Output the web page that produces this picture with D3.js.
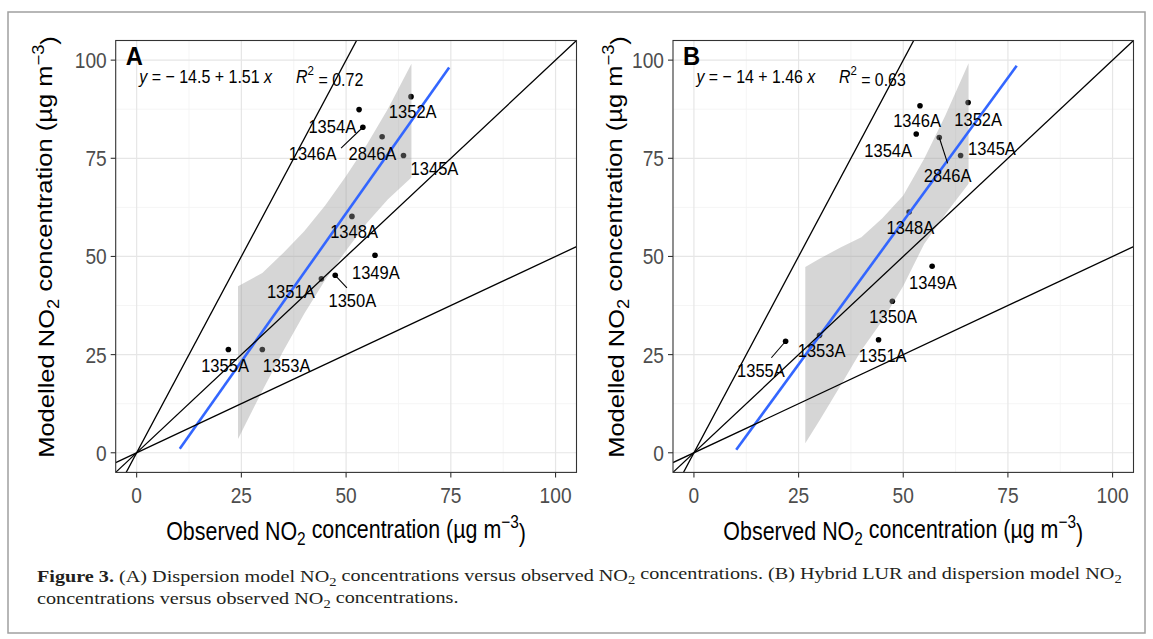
<!DOCTYPE html>
<meta charset="utf-8">
<script src="https://d3js.org/d3.v7.min.js"></script>
<body style="margin:0;background:#fff">
<div id="chart"></div>
<script>
// monitoring sites (same order in every array below)
const sites = ["1345A","1346A","1348A","1349A","1350A","1351A","1352A","1353A","1354A","1355A","2846A"];
const observed  = [63.7, 54.0, 51.4, 56.9, 47.4, 44.1, 65.5, 30.0, 53.1, 21.9, 58.6];
const modelledA = [75.7, 82.9, 60.2, 50.3, 45.2, 44.3, 90.7, 26.3, 87.4, 26.3, 80.5];
const modelledB = [75.7, 88.4, 61.3, 47.5, 38.6, 28.8, 89.2, 29.9, 81.2, 28.4, 80.3];

// repelled label anchors (data units)
const labelXA = [71.1, 42.0, 51.9, 57.1, 51.5, 36.8, 65.9, 35.8, 46.7, 21.1, 56.3];
const labelYA = [72.5, 76.3, 56.4, 46.0, 38.8, 41.2, 87.1, 22.3, 83.3, 22.3, 76.3];
const labelXB = [71.2, 53.3, 51.7, 57.1, 47.6, 45.1, 67.9, 30.5, 46.4, 16.0, 60.6];
const labelYB = [77.6, 84.6, 57.4, 43.5, 34.7, 24.8, 85.0, 26.1, 77.1, 21.0, 70.6];
// leader segment ends (null = no segment)
const segXA = [null, 48.8, null, null, 50.2, null, null, null, null, null, null];
const segYA = [null, 77.6, null, null, 42.0, null, null, null, null, null, null];
const segXB = [null, null, null, null, null, null, null, null, null, 18.5, 60.6];
const segYB = [null, null, null, null, null, null, null, null, null, 24.2, 73.7];

// linear fits: [intercept, slope], drawn x range, R2
const fitA = [-14.5, 1.51], fitRangeA = [10.3, 74.6], r2A = "0.72";
const fitB = [-14, 1.46],   fitRangeB = [10.1, 77.1], r2B = "0.63";

// confidence ribbons
const ribbonXA  = [24.2, 30, 35, 40, 45, 50, 55, 60, 65.6];
const ribbonLoA = [3.5, 15.8, 25.9, 35.4, 44.0, 51.5, 58.6, 64.6, 70.1];
const ribbonHiA = [42.4, 45.8, 50.9, 56.4, 63.0, 70.5, 78.6, 87.6, 99.1];
const ribbonXB  = [26.6, 30, 35, 40, 45, 50, 55, 60, 65.6];
const ribbonLoB = [2.4, 8.2, 17.1, 26.1, 33.6, 42.5, 53.2, 60.7, 68.5];
const ribbonHiB = [47.3, 49.4, 52.3, 54.9, 59.7, 65.5, 74.9, 85.8, 99.2];

// reference lines through origin (2:1, 1:1, 1:2)
const refSlopes = [2, 1, 0.5];
const majorTicks = [0, 25, 50, 75, 100];
const minorTicks = [12.5, 37.5, 62.5, 87.5];

const W = 1153, H = 639;
const SANS = "'Liberation Sans', Arial, sans-serif";
const SQ = 0.87; // horizontal squeeze of the original figure

const svg = d3.select("#chart").append("svg")
    .attr("width", W).attr("height", H);

svg.append("rect")
    .attr("x", 8).attr("y", 12).attr("width", 1137).attr("height", 621)
    .attr("fill", "#fff").attr("stroke", "#a0a0a0").attr("stroke-width", 1.5);

// append a text with tspans; parts = [{t, i, b, sub, sup}]
function richText(g, parts, size, family) {
  const t = g.append("text").attr("font-family", family).attr("font-size", size);
  let shift = 0;
  parts.forEach(p => {
    let target = p.sub ? 0.3 : p.sup ? -0.55 : 0;
    const s = t.append("tspan").text(p.t)
        .attr("dy", (target - shift) + "em");
    if (p.sub || p.sup) s.attr("font-size", size * 0.72);
    if (p.i) s.attr("font-style", "italic");
    if (p.b) s.attr("font-weight", "bold");
    shift = target;
  });
  return t;
}

function drawPanel(o) {
  const x = d3.scaleLinear().domain([-5, 105]).range([o.left, o.right]);
  const y = d3.scaleLinear().domain([-5, 105]).range([o.bottom, o.top]);
  const g = svg.append("g");

  g.append("clipPath").attr("id", "clip" + o.id)
    .append("rect").attr("x", o.left).attr("y", o.top)
    .attr("width", o.right - o.left).attr("height", o.bottom - o.top);

  g.append("rect").attr("x", o.left).attr("y", o.top)
    .attr("width", o.right - o.left).attr("height", o.bottom - o.top).attr("fill", "#fff");

  // grid
  const grid = g.append("g");
  grid.selectAll(".mx").data(minorTicks).join("line")
      .attr("x1", d => x(d)).attr("x2", d => x(d)).attr("y1", o.top).attr("y2", o.bottom)
      .attr("stroke", "#f2f2f2").attr("stroke-width", 0.8);
  grid.selectAll(".my").data(minorTicks).join("line").attr("class", "my")
      .attr("y1", d => y(d)).attr("y2", d => y(d)).attr("x1", o.left).attr("x2", o.right)
      .attr("stroke", "#f2f2f2").attr("stroke-width", 0.8);
  grid.selectAll(".Mx").data(majorTicks).join("line").attr("class", "Mx")
      .attr("x1", d => x(d)).attr("x2", d => x(d)).attr("y1", o.top).attr("y2", o.bottom)
      .attr("stroke", "#e6e6e6").attr("stroke-width", 1.2);
  grid.selectAll(".My").data(majorTicks).join("line").attr("class", "My")
      .attr("y1", d => y(d)).attr("y2", d => y(d)).attr("x1", o.left).attr("x2", o.right)
      .attr("stroke", "#e6e6e6").attr("stroke-width", 1.2);

  const plot = g.append("g").attr("clip-path", "url(#clip" + o.id + ")");

  // points
  plot.selectAll("circle").data(sites).join("circle")
      .attr("cx", (d, i) => x(observed[i])).attr("cy", (d, i) => y(o.modelled[i]))
      .attr("r", 2.8).attr("fill", "#000");

  // confidence ribbon
  const area = d3.area().x((d, i) => x(o.ribX[i]))
      .y0((d, i) => y(o.ribLo[i])).y1((d, i) => y(o.ribHi[i]));
  plot.append("path").datum(o.ribX).attr("d", area)
      .attr("fill", "#999").attr("fill-opacity", 0.4);

  // fitted line
  plot.append("line")
      .attr("x1", x(o.fitRange[0])).attr("y1", y(o.fit[0] + o.fit[1] * o.fitRange[0]))
      .attr("x2", x(o.fitRange[1])).attr("y2", y(o.fit[0] + o.fit[1] * o.fitRange[1]))
      .attr("stroke", "#3366FF").attr("stroke-width", 2.6);

  // reference lines
  plot.selectAll(".ref").data(refSlopes).join("line").attr("class", "ref")
      .attr("x1", x(-5)).attr("y1", d => y(-5 * d))
      .attr("x2", x(105)).attr("y2", d => y(105 * d))
      .attr("stroke", "#000").attr("stroke-width", 1.3);

  // leader segments
  sites.forEach((s, i) => {
    if (o.segX[i] == null) return;
    plot.append("line")
        .attr("x1", x(observed[i])).attr("y1", y(o.modelled[i]))
        .attr("x2", x(o.segX[i])).attr("y2", y(o.segY[i]))
        .attr("stroke", "#000").attr("stroke-width", 1.1);
  });

  // labels
  sites.forEach((s, i) => {
    g.append("text")
        .attr("transform", `translate(${x(o.labX[i])},${y(o.labY[i]) + 6.8}) scale(${SQ},1)`)
        .attr("text-anchor", "middle")
        .attr("font-family", SANS).attr("font-size", 19).attr("fill", "#000")
        .text(s);
  });

  // border
  g.append("rect").attr("x", o.left).attr("y", o.top)
    .attr("width", o.right - o.left).attr("height", o.bottom - o.top)
    .attr("fill", "none").attr("stroke", "#333").attr("stroke-width", 1.1);

  // ticks and tick labels
  g.selectAll(".xt").data(majorTicks).join("line").attr("class", "xt")
      .attr("x1", d => x(d)).attr("x2", d => x(d)).attr("y1", o.bottom).attr("y2", o.bottom + 5)
      .attr("stroke", "#333").attr("stroke-width", 1.1);
  g.selectAll(".yt").data(majorTicks).join("line").attr("class", "yt")
      .attr("y1", d => y(d)).attr("y2", d => y(d)).attr("x1", o.left - 5).attr("x2", o.left)
      .attr("stroke", "#333").attr("stroke-width", 1.1);
  g.selectAll(".xl").data(majorTicks).join("text").attr("class", "xl")
      .attr("transform", d => `translate(${x(d)},${o.bottom + 31}) scale(${SQ},1)`)
      .attr("text-anchor", "middle").attr("font-family", SANS).attr("font-size", 22)
      .attr("fill", "#4d4d4d").text(d => d);
  g.selectAll(".yl").data(majorTicks).join("text").attr("class", "yl")
      .attr("transform", d => `translate(${o.left - 9},${y(d) + 7.9}) scale(${SQ},1)`)
      .attr("text-anchor", "end").attr("font-family", SANS).attr("font-size", 22)
      .attr("fill", "#4d4d4d").text(d => d);

  // panel letter
  g.append("text")
      .attr("transform", `translate(${o.left + 10},${o.top + 24}) scale(0.95,1)`)
      .attr("font-family", SANS).attr("font-size", 25).attr("font-weight", "bold")
      .text(o.id);

  // equation
  const eq = richText(g, [
    {t: "y", i: true}, {t: " = \u2212 " + Math.abs(o.fit[0]) + " + " + o.fit[1] + " "},
    {t: "x", i: true}, {t: "\u2003\u2002"}, {t: "R", i: true}, {t: "2", sup: true},
    {t: " = " + o.r2}
  ], 19, SANS);
  const ew = eq.node().getBBox().width;
  eq.attr("transform", `translate(${o.left + 23.5},${o.top + 42.5}) scale(${o.eqWidth / ew},1)`);

  // x title
  const xt = richText(g, [
    {t: "Observed NO"}, {t: "2", sub: true}, {t: " concentration (\u00b5g m"},
    {t: "\u22123", sup: true}, {t: ")"}
  ], 25, SANS).attr("text-anchor", "middle");
  const xw = xt.node().getBBox().width;
  xt.attr("transform", `translate(${(o.left + o.right) / 2},540) scale(${360 / xw},1)`);

  // y title
  const yt = richText(g, [
    {t: "Modelled NO"}, {t: "2", sub: true}, {t: " concentration (\u00b5g m"},
    {t: "\u22123", sup: true}, {t: ")"}
  ], 25, SANS).attr("text-anchor", "middle");
  const yw = yt.node().getBBox().width;
  yt.attr("transform", `translate(${o.yTitleX},247) scale(${SQ},${422 / yw}) rotate(-90)`);
}

drawPanel({
  id: "A", left: 115.7, right: 576.5, top: 40.5, bottom: 472.4,
  modelled: modelledA, labX: labelXA, labY: labelYA, segX: segXA, segY: segYA,
  fit: fitA, fitRange: fitRangeA, r2: r2A,
  ribX: ribbonXA, ribLo: ribbonLoA, ribHi: ribbonHiA,
  eqWidth: 226, yTitleX: 54
});
drawPanel({
  id: "B", left: 673, right: 1133.5, top: 40.5, bottom: 472.4,
  modelled: modelledB, labX: labelXB, labY: labelYB, segX: segXB, segY: segYB,
  fit: fitB, fitRange: fitRangeB, r2: r2B,
  ribX: ribbonXB, ribLo: ribbonLoB, ribHi: ribbonHiB,
  eqWidth: 211, yTitleX: 624
});

// caption
const SERIF = "'Liberation Serif', 'Times New Roman', serif";
const cap1 = richText(svg, [
  {t: "Figure 3.", b: true}, {t: " (A) Dispersion model NO"}, {t: "2", sub: true},
  {t: " concentrations versus observed NO"}, {t: "2", sub: true},
  {t: " concentrations. (B) Hybrid LUR and dispersion model NO"}, {t: "2", sub: true}
], 17, SERIF).attr("fill", "#231f20");
const cap2 = richText(svg, [
  {t: "concentrations versus observed NO"}, {t: "2", sub: true}, {t: " concentrations."}
], 17, SERIF).attr("fill", "#231f20");
const cs = 1085 / cap1.node().getBBox().width;
cap1.attr("transform", `translate(37,582) scale(${cs},1)`);
cap2.attr("transform", `translate(37,604) scale(${cs},1)`);
</script>
</body>
